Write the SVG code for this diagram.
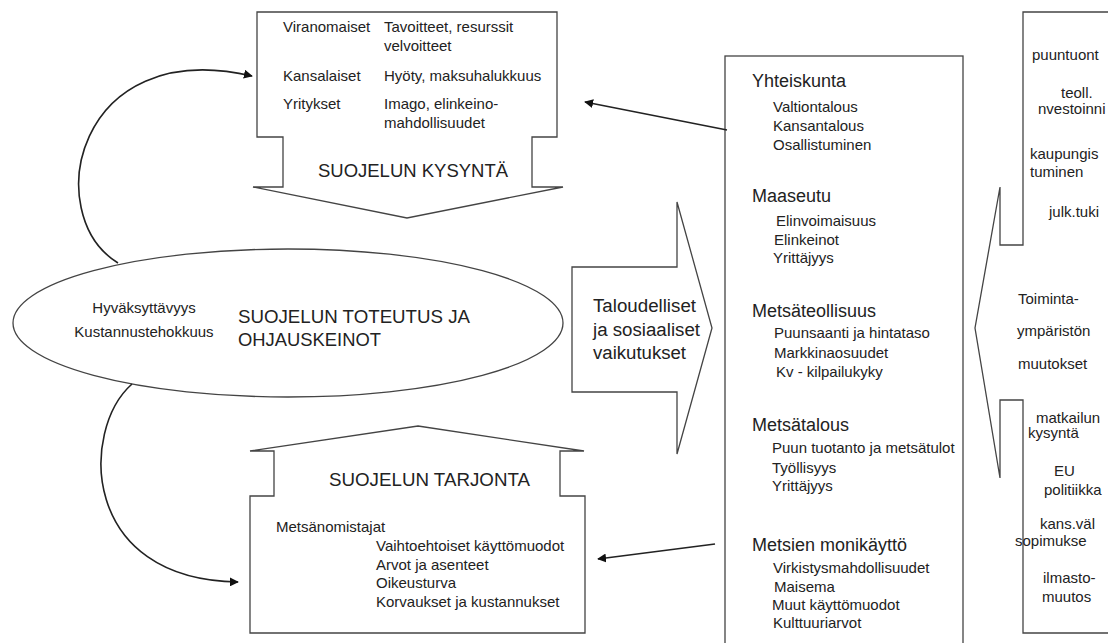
<svg xmlns="http://www.w3.org/2000/svg" width="1108" height="643" viewBox="0 0 1108 643">
<defs>
<style>
text{font-family:"Liberation Sans",Arial,sans-serif;fill:#222;}
.s{font-size:15px;}
.h{font-size:18px;}
.shape{fill:#fff;stroke:#444;stroke-width:1.3;}
.conn{fill:none;stroke:#222;stroke-width:1.6;}
</style>
<marker id="ah" viewBox="0 0 10 10" refX="9" refY="5" markerWidth="9" markerHeight="9" markerUnits="userSpaceOnUse" orient="auto">
<path d="M0,0 L10,5 L0,10 Z" fill="#111"/>
</marker>
</defs>
<rect width="1108" height="643" fill="#fff"/>

<g id="demand">
<path class="shape" d="M257,12 H557 V137 H532 V187 H563 L407,218 L253,187 H283 V137 H257 Z"/>
<text class="s" x="283" y="32">Viranomaiset</text>
<text class="s" x="384" y="32">Tavoitteet, resurssit</text>
<text class="s" x="384" y="51">velvoitteet</text>
<text class="s" x="283" y="81">Kansalaiset</text>
<text class="s" x="384" y="81">Hyöty, maksuhalukkuus</text>
<text class="s" x="283" y="109">Yritykset</text>
<text class="s" x="384" y="109">Imago, elinkeino-</text>
<text class="s" x="384" y="128">mahdollisuudet</text>
<text class="h" x="318" y="177" textLength="190" lengthAdjust="spacingAndGlyphs">SUOJELUN KYSYNTÄ</text>
</g>

<g id="implementation">
<ellipse class="shape" cx="288" cy="323" rx="275" ry="74"/>
<text class="s" x="144" y="313" text-anchor="middle">Hyväksyttävyys</text>
<text class="s" x="144" y="337" text-anchor="middle">Kustannustehokkuus</text>
<text class="h" x="238" y="323" textLength="232" lengthAdjust="spacingAndGlyphs">SUOJELUN TOTEUTUS JA</text>
<text class="h" x="238" y="346" textLength="143" lengthAdjust="spacingAndGlyphs">OHJAUSKEINOT</text>
</g>

<g id="supply">
<path class="shape" d="M418,426 L584,451 H560 V496 H585 V633 H250 V496 H274 V451 H250 Z"/>
<text class="h" x="329" y="486" textLength="201" lengthAdjust="spacingAndGlyphs">SUOJELUN TARJONTA</text>
<text class="s" x="276" y="532">Metsänomistajat</text>
<text class="s" x="376" y="551">Vaihtoehtoiset käyttömuodot</text>
<text class="s" x="376" y="570">Arvot ja asenteet</text>
<text class="s" x="376" y="588">Oikeusturva</text>
<text class="s" x="376" y="607">Korvaukset ja kustannukset</text>
</g>

<g id="impacts">
<path class="shape" d="M572,267 H677 V202 L712,328 L677,454 V392 H572 Z"/>
<text class="h" x="593" y="312" textLength="103" lengthAdjust="spacingAndGlyphs">Taloudelliset</text>
<text class="h" x="593" y="336" textLength="107" lengthAdjust="spacingAndGlyphs">ja sosiaaliset</text>
<text class="h" x="593" y="359" textLength="93" lengthAdjust="spacingAndGlyphs">vaikutukset</text>
</g>

<g id="effects">
<rect class="shape" x="725" y="56" width="238" height="600"/>
<text class="h" x="752" y="87">Yhteiskunta</text>
<text class="s" x="773" y="112">Valtiontalous</text>
<text class="s" x="773" y="131">Kansantalous</text>
<text class="s" x="773" y="150">Osallistuminen</text>
<text class="h" x="752" y="202">Maaseutu</text>
<text class="s" x="776" y="226">Elinvoimaisuus</text>
<text class="s" x="774" y="245">Elinkeinot</text>
<text class="s" x="773" y="263">Yrittäjyys</text>
<text class="h" x="752" y="317">Metsäteollisuus</text>
<text class="s" x="774" y="338">Puunsaanti ja hintataso</text>
<text class="s" x="774" y="358">Markkinaosuudet</text>
<text class="s" x="776" y="377">Kv - kilpailukyky</text>
<text class="h" x="752" y="431">Metsätalous</text>
<text class="s" x="772" y="453">Puun tuotanto ja metsätulot</text>
<text class="s" x="772" y="473">Työllisyys</text>
<text class="s" x="772" y="491">Yrittäjyys</text>
<text class="h" x="752" y="551">Metsien monikäyttö</text>
<text class="s" x="773" y="573">Virkistysmahdollisuudet</text>
<text class="s" x="774" y="592">Maisema</text>
<text class="s" x="772" y="610">Muut käyttömuodot</text>
<text class="s" x="773" y="628">Kulttuuriarvot</text>
</g>

<g id="environment">
<path class="shape" d="M1120,12 H1023 V245 H1000 V187 L975,328 L1000,478 V400 H1023 V633 H1120"/>
<text class="s" x="1032" y="60">puuntuont</text>
<text class="s" x="1061" y="98">teoll.</text>
<text class="s" x="1038" y="114">nvestoinni</text>
<text class="s" x="1030" y="159">kaupungis</text>
<text class="s" x="1030" y="177">tuminen</text>
<text class="s" x="1049" y="217">julk.tuki</text>
<text class="s" x="1018" y="304">Toiminta-</text>
<text class="s" x="1017" y="336">ympäristön</text>
<text class="s" x="1018" y="369">muutokset</text>
<text class="s" x="1036" y="423">matkailun</text>
<text class="s" x="1028" y="438">kysyntä</text>
<text class="s" x="1054" y="476">EU</text>
<text class="s" x="1044" y="495">politiikka</text>
<text class="s" x="1040" y="529">kans.väl</text>
<text class="s" x="1015" y="546">sopimukse</text>
<text class="s" x="1043" y="583">ilmasto-</text>
<text class="s" x="1042" y="602">muutos</text>
</g>

<g id="connectors">
<path class="conn" d="M118,263 C40,215 75,35 252,76" marker-end="url(#ah)"/>
<path class="conn" d="M132,384 C80,430 80,580 238,582" marker-end="url(#ah)"/>
<path class="conn" d="M727,130 L585,102" marker-end="url(#ah)"/>
<path class="conn" d="M715,544 L598,559" marker-end="url(#ah)"/>
</g>
</svg>
